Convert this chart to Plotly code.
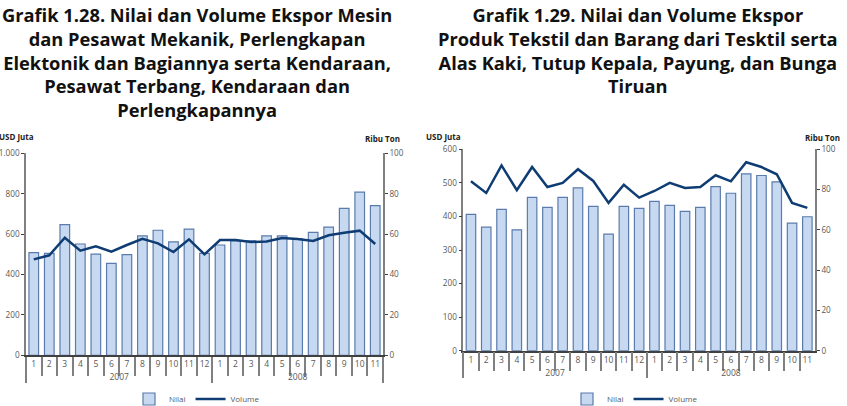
import plotly.graph_objects as go

# ---------------- data ----------------
years = ["2007"] * 12 + ["2008"] * 11
months = [str(i) for i in range(1, 13)] + [str(i) for i in range(1, 12)]

# Grafik 1.28 - Mesin, Elektronik, Kendaraan
nilai_mesin = [508, 505, 647, 551, 501, 455, 498, 591, 619, 562, 625, 505,
               546, 566, 567, 591, 591, 577, 609, 635, 727, 808, 741]
volume_mesin = [47.5, 49.5, 58.2, 51.8, 54.0, 51.3, 54.6, 57.7, 55.4, 51.1, 57.4, 50.0,
                57.1, 57.1, 56.1, 56.3, 58.1, 57.6, 56.6, 59.4, 60.7, 61.7, 55.1]

# Grafik 1.29 - Tekstil, Alas Kaki, dll
nilai_tekstil = [406, 368, 421, 360, 457, 427, 457, 485, 430, 347, 430, 424,
                 445, 433, 415, 427, 489, 469, 527, 522, 503, 380, 399]
volume_tekstil = [84.1, 78.3, 92.0, 79.7, 91.2, 81.3, 83.3, 90.1, 84.3, 73.4, 82.4, 76.0,
                  79.3, 83.3, 80.8, 81.3, 87.1, 84.1, 93.6, 91.2, 87.6, 73.4, 70.9]

title_left = ("Grafik 1.28. Nilai dan Volume Ekspor Mesin<br>dan Pesawat Mekanik, Perlengkapan<br>"
              "Elektonik dan Bagiannya serta Kendaraan,<br>Pesawat Terbang, Kendaraan dan<br>Perlengkapannya")
title_right = ("Grafik 1.29. Nilai dan Volume Ekspor<br>Produk Tekstil dan Barang dari Tesktil serta<br>"
               "Alas Kaki, Tutup Kepala, Payung, dan Bunga<br>Tiruan")

# ---------------- style ----------------
BAR_FILL = "#c6d9f0"
BAR_LINE = "#5a7bab"
LINE_COL = "#0f3d73"
TICK_COL = "#595959"
AXIS_COL = "#808080"
FONT = "Open Sans"

W, H = 847, 406
def fx(px):
    return px / W
def fy(py):
    return (H - py) / H

x_cat = [years, months]

fig = go.Figure()
fig.add_trace(go.Bar(x=x_cat, y=nilai_mesin, name="Nilai", marker=dict(color=BAR_FILL, line=dict(color=BAR_LINE, width=1.2)),
                     xaxis="x", yaxis="y", legend="legend"))
fig.add_trace(go.Scatter(x=x_cat, y=volume_mesin, name="Volume", mode="lines", line=dict(color=LINE_COL, width=2.5),
                         xaxis="x", yaxis="y2", legend="legend"))
fig.add_trace(go.Bar(x=x_cat, y=nilai_tekstil, name="Nilai", marker=dict(color=BAR_FILL, line=dict(color=BAR_LINE, width=1.2)),
                     xaxis="x2", yaxis="y3", legend="legend2"))
fig.add_trace(go.Scatter(x=x_cat, y=volume_tekstil, name="Volume", mode="lines", line=dict(color=LINE_COL, width=2.5),
                         xaxis="x2", yaxis="y4", legend="legend2"))

xcommon = dict(type="multicategory", showline=True, linecolor="#404040", linewidth=1.5,
               ticks="outside", tickson="boundaries", ticklen=19, tickcolor=AXIS_COL, tickwidth=1.5,
               showdividers=True, dividercolor=AXIS_COL, dividerwidth=1.5, tickangle=0, automargin=False,
               tickfont=dict(family=FONT, size=8.5, color=TICK_COL), showgrid=False, zeroline=False, fixedrange=True)
ycommon = dict(showline=True, linecolor=AXIS_COL, linewidth=1.5, ticks="outside", ticklen=3, automargin=False,
               tickcolor="#404040", tickwidth=1.2, showgrid=False, zeroline=False,
               tickfont=dict(family=FONT, size=8.2, color=TICK_COL), separatethousands=True)

legcommon = dict(orientation="h", xanchor="center", yanchor="middle",
                 font=dict(family=FONT, size=8, color=TICK_COL), bgcolor="rgba(0,0,0,0)", itemwidth=30,
                 tracegroupgap=0, borderwidth=0)

fig.update_layout(
    width=W, height=H, margin=dict(l=0, r=0, t=0, b=0, autoexpand=False),
    paper_bgcolor="white", plot_bgcolor="white",
    separators=",.", barmode="group", bargap=0.38, showlegend=True,
    xaxis=dict(domain=[fx(26), fx(383)], anchor="y", **xcommon),
    yaxis=dict(domain=[fy(355.3), fy(153.3)], range=[0, 1000], dtick=200, anchor="x", **ycommon),
    yaxis2=dict(overlaying="y", side="right", range=[0, 100], dtick=20, anchor="x", **ycommon),
    xaxis2=dict(domain=[fx(463.3), fx(815)], anchor="y3", **xcommon),
    yaxis3=dict(domain=[fy(350.7), fy(149.3)], range=[0, 600], dtick=100, anchor="x2", **ycommon),
    yaxis4=dict(overlaying="y3", side="right", range=[0, 100], dtick=20, anchor="x2", **ycommon),
    legend=dict(x=fx(197), y=fy(399), **legcommon),
    legend2=dict(x=fx(635), y=fy(399), **legcommon),
)

annots = [
    dict(text="<b>" + title_left + "</b>", x=fx(197), y=fy(0), xanchor="center", yanchor="top",
         font=dict(family=FONT, size=18.3, color="#111111")),
    dict(text="<b>" + title_right + "</b>", x=fx(638), y=fy(0), xanchor="center", yanchor="top",
         font=dict(family=FONT, size=18.3, color="#111111")),
    dict(text="<b>USD Juta</b>", x=fx(-3), y=fy(137), xanchor="left", yanchor="middle",
         font=dict(family=FONT, size=8, color="#222222")),
    dict(text="<b>Ribu Ton</b>", x=fx(402), y=fy(138), xanchor="right", yanchor="middle",
         font=dict(family=FONT, size=8, color="#222222")),
    dict(text="<b>USD Juta</b>", x=fx(424), y=fy(137), xanchor="left", yanchor="middle",
         font=dict(family=FONT, size=8, color="#222222")),
    dict(text="<b>Ribu Ton</b>", x=fx(842), y=fy(137), xanchor="right", yanchor="middle",
         font=dict(family=FONT, size=8, color="#222222")),
]
for a in annots:
    fig.add_annotation(xref="paper", yref="paper", showarrow=False, align="center", **a)

fig.write_html("out.html")
